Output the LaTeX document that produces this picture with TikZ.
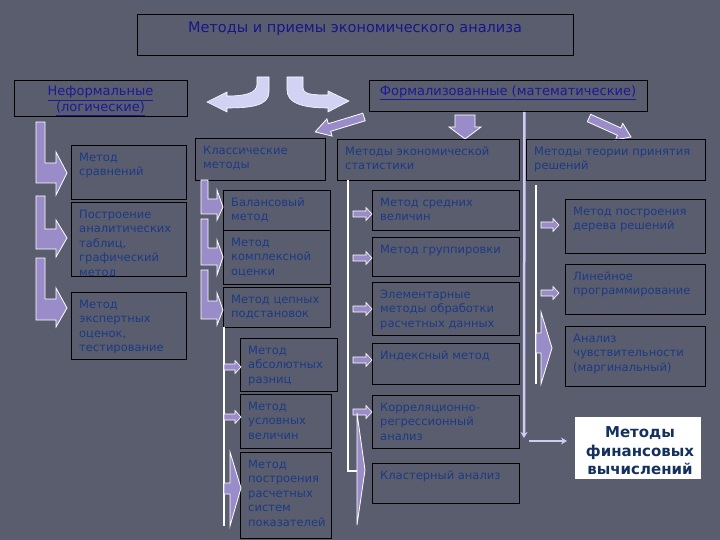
\documentclass[tikz,border=0pt]{standalone}
\usepackage{fontspec}
\setmainfont{DejaVu Sans}
\usetikzlibrary{arrows.meta}
\definecolor{bg}{HTML}{5A5D6D}
\definecolor{txt}{HTML}{1C3A85}
\definecolor{headc}{HTML}{1A1A9A}
\definecolor{titc}{HTML}{16168A}
\definecolor{lav}{HTML}{9A8CC8}
\definecolor{lavl}{HTML}{D2D2F4}
\definecolor{lavline}{HTML}{CFCBF2}
\definecolor{finc}{HTML}{14305E}
\tikzset{
 box/.style={draw=black, line width=0.9pt, anchor=north west, inner sep=0pt},
 lbl/.style={anchor=north west, inner sep=0pt, align=left, text=txt, font=\fontsize{11.5}{14.5}\selectfont},
 headtxt/.style={inner sep=0pt, align=center, text=headc, font=\fontsize{13}{16}\selectfont},
 blk/.style={fill=lav, draw=white, line width=0.8pt, line join=miter},
 curv/.style={fill=lavl, draw=white, line width=0.6pt},
 sml/.style={fill=lav, draw=white, line width=0.6pt},
 wline/.style={draw=white, line width=1.3pt},
 mline/.style={draw=lavline, line width=2.5pt, -{Stealth[length=6pt,width=7pt]}},
}
\newcommand\bxx[6]{\node[box, minimum width=#4pt, minimum height=#5pt] (#1) at (#2,#3) {};
 \node[lbl] (#1t) at ([shift={(8pt,-7.5pt)}]#1.north west) {#6};}
\newcommand\sarr[3]{\filldraw[sml] (#1,#2-3) -- (#1+#3-6,#2-3) -- (#1+#3-6,#2-6.5) -- (#1+#3,#2) -- (#1+#3-6,#2+6.5) -- (#1+#3-6,#2+3) -- (#1,#2+3) -- cycle;}
\begin{document}
\begin{tikzpicture}[x=1pt,y=-1pt]
\fill[bg] (0,0) rectangle (720,540);
\useasboundingbox (0,0) rectangle (720,540);

% title
\node[box, minimum width=436pt, minimum height=41pt] (ti) at (137,14) {};
\node[inner sep=0pt, text=titc, font=\fontsize{14.5}{17}\selectfont] (tit) at (355,29) {Методы и приемы экономического анализа};

% headings
\node[box, minimum width=173pt, minimum height=36pt] (nf) at (14,80) {};
\node[headtxt] (nft) at (100.5,101) {\underline{Неформальные}\\\underline{(логические)}};
\node[box, minimum width=278pt, minimum height=31pt] (fm) at (369,80) {};
\node[headtxt] (fmt) at (508,93) {\underline{Формализованные (математические)}};

% curved arrows
\filldraw[curv] (257,77) -- (269,77) -- (269,92) .. controls (269,106) and (250,108) .. (227,108) -- (227,112) -- (207,102) -- (227,92) -- (227,96) .. controls (246,96) and (257,93) .. (257,84) -- cycle;
\filldraw[curv] (287,77) -- (303,77) -- (303,87) .. controls (303,94) and (310,95) .. (328,95) -- (328,91) -- (349,101) -- (328,112) -- (328,108) .. controls (300,108) and (287,102) .. (287,90) -- cycle;

% down / diagonal arrows
\filldraw[blk] (455,115) -- (475,115) -- (475,127) -- (481,127) -- (465,139) -- (449,127) -- (455,127) -- cycle;
\filldraw[blk] (362.8,113.2) -- (328.3,123.7) -- (326.9,118.9) -- (315.2,131.9) -- (332.1,136.1) -- (330.7,131.3) -- (365.2,120.8) -- cycle;
\filldraw[blk] (590.7,114.3) -- (620.8,127.9) -- (622.8,123.4) -- (631,137) -- (615.4,139.8) -- (617.4,135.3) -- (587.3,121.7) -- cycle;

% second level
\bxx{ms}{71}{145}{115}{54}{Метод\\сравнений}
\bxx{pt}{71}{202}{115}{74}{Построение\\аналитических\\таблиц,\\графический\\метод}
\bxx{me}{71}{292}{115}{67}{Метод\\экспертных\\оценок,\\тестирование}
\bxx{kl}{195}{138}{130}{42}{Классические\\методы}
\bxx{st}{337}{139}{182}{41}{Методы экономической\\статистики}
\bxx{tr}{526}{139}{179}{41}{Методы теории принятия\\решений}
\bxx{bal}{223}{190}{107}{40}{Балансовый\\метод}
\bxx{kom}{223}{230}{107}{54}{Метод\\комплексной\\оценки}
\bxx{cep}{223}{287}{107}{40}{Метод цепных\\подстановок}
\bxx{abs}{240}{338}{97}{53}{Метод\\абсолютных\\разниц}
\bxx{usl}{240}{394}{91}{54}{Метод\\условных\\величин}
\bxx{sys}{240}{452}{91}{86}{Метод\\построения\\расчетных\\систем\\показателей}
\bxx{sr}{372}{190}{147}{40}{Метод средних\\величин}
\bxx{gr}{372}{237}{147}{39}{Метод группировки}
\bxx{el}{372}{282}{147}{53}{Элементарные\\методы обработки\\расчетных данных}
\bxx{ind}{372}{343}{147}{41}{Индексный метод}
\bxx{kor}{372}{395}{147}{53}{Корреляционно-\\регрессионный\\анализ}
\bxx{kla}{372}{463}{147}{40}{Кластерный анализ}
\bxx{der}{565}{199}{140}{54}{Метод построения\\дерева решений}
\bxx{lin}{565}{264}{140}{50}{Линейное\\программирование}
\bxx{an}{565}{326}{140}{60}{Анализ\\чувствительности\\(маргинальный)}

% left bent arrows
\filldraw[blk] (36,122) -- (45,122) -- (45,163) -- (56,163) -- (56,152) -- (67,173) -- (56,195) -- (56,183) -- (36,183) -- cycle;
\filldraw[blk] (36,196) -- (45,196) -- (45,229) -- (56,229) -- (56,220) -- (67,238) -- (56,257) -- (56,249) -- (36,249) -- cycle;
\filldraw[blk] (36,258) -- (45,258) -- (45,299) -- (56,299) -- (56,288) -- (67,308) -- (56,327) -- (56,320) -- (36,320) -- cycle;

% classical bent arrows
\filldraw[blk] (201,180) -- (208,180) -- (208,199) -- (217,199) -- (217,190) -- (223,207) -- (217,220) -- (217,214) -- (201,214) -- cycle;
\filldraw[blk] (201,219) -- (208,219) -- (208,248) -- (217,248) -- (217,240) -- (223,257) -- (217,275) -- (217,265) -- (201,265) -- cycle;
\filldraw[blk] (201,270) -- (208,270) -- (208,301) -- (217,301) -- (217,293) -- (223,310) -- (217,325) -- (217,319) -- (201,319) -- cycle;

% white lines
\draw[wline] (224,327) -- (224,526);
\draw[wline] (348,180) -- (348,471) -- (357,471);
\draw[wline] (536,185) -- (536,384);

% small arrows
\sarr{224}{367}{17}
\sarr{224}{417}{17}
\sarr{353}{214}{19}
\sarr{353}{258}{19}
\sarr{353}{309}{19}
\sarr{353}{360}{19}
\sarr{353}{412}{19}
\sarr{541}{225}{18}
\sarr{541}{293}{18}

% big thin arrows
\filldraw[blk] (224,483) -- (230,483) -- (230,452) -- (241,488) -- (230,526) -- (230,494) -- (224,494) -- cycle;
\filldraw[blk] (357,413) -- (365,470) -- (357,525) -- cycle;
\filldraw[blk] (536,333) -- (541,333) -- (541,312) -- (552,348) -- (541,384) -- (541,353) -- (536,353) -- cycle;

% finance box
\node[fill=white, anchor=north west, minimum width=126pt, minimum height=62pt, inner sep=0pt] (fin) at (575,417) {};
\node[inner sep=0pt, align=center, text=finc, font=\bfseries\fontsize{15}{18.5}\selectfont] (fint) at (640,451) {Методы\\финансовых\\вычислений};

% main lavender line
\coordinate (c1) at (524,438);
\coordinate (c2) at (529,441);
\coordinate (c3) at (567,441);
\draw[mline] ([xshift=16pt]fm.south) -- (c1);
\draw[mline] (c2) -- (c3);
\end{tikzpicture}
\end{document}
